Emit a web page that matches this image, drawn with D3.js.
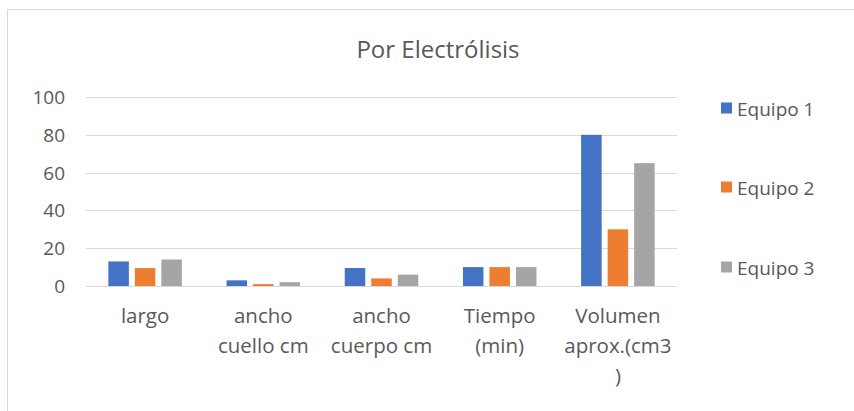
<!DOCTYPE html>
<html lang="es">
  <head>
    <meta charset="UTF-8" />
    <title>Por Electrólisis</title>
    <style>
      body {
        margin: 0;
        background: #fff;
        font-family: "Open Sans", "Noto Sans", sans-serif;
        color: #595959;
      }
      text {
        fill: #595959;
      }
      .grid line {
        stroke: #d9d9d9;
        stroke-width: 1;
      }
    </style>
  </head>
  <body>
    <svg width="854" height="411"></svg>
  </body>
  <script src="https://cdn.jsdelivr.net/npm/d3@7"></script>
  <script>
    const categories = ["largo", "ancho cuello cm", "ancho cuerpo cm", "Tiempo (min)", "Volumen aprox.(cm3 )"];
    const tickLines = [["largo"], ["ancho", "cuello cm"], ["ancho", "cuerpo cm"], ["Tiempo", "(min)"], ["Volumen", "aprox.(cm3", ")"]];
    const seriesNames = ["Equipo 1", "Equipo 2", "Equipo 3"];
    const equipo1 = [13, 3, 9.5, 10, 80];
    const equipo2 = [9.5, 1, 4, 10, 30];
    const equipo3 = [14, 2, 6, 10, 65];
    const yTicks = [0, 20, 40, 60, 80, 100];
    const colors = ["#4472C4", "#ED7D31", "#A5A5A5"];

    const values = [equipo1, equipo2, equipo3];
    const svg = d3.select("svg");

    // chart border
    svg.append("rect")
      .attr("x", 7.5).attr("y", 9.5)
      .attr("width", 860).attr("height", 420)
      .attr("fill", "none").attr("stroke", "#d9d9d9");

    svg.append("text")
      .attr("x", 438).attr("y", 58)
      .attr("text-anchor", "middle")
      .attr("font-size", 24)
      .text("Por Electrólisis");

    const x0 = d3.scaleBand().domain(categories).range([86, 677]).padding(0);
    const x1 = d3.scaleBand().domain(seriesNames)
      .range([0, x0.bandwidth()])
      .paddingInner(0.226).paddingOuter(0.843);
    const y = d3.scaleLinear().domain([0, 100]).range([286, 97]);

    // gridlines + y labels
    svg.append("g").attr("class", "grid")
      .selectAll("line").data(yTicks).join("line")
      .attr("x1", 86).attr("x2", 677)
      .attr("y1", (d) => Math.round(y(d)) + 0.5)
      .attr("y2", (d) => Math.round(y(d)) + 0.5);

    svg.append("g")
      .selectAll("text").data(yTicks).join("text")
      .attr("x", 65).attr("y", (d) => y(d) + 7)
      .attr("text-anchor", "end")
      .attr("font-size", 19)
      .text((d) => d);

    // bars
    const groups = svg.append("g")
      .selectAll("g").data(categories).join("g")
      .attr("transform", (d) => `translate(${x0(d)},0)`);

    groups.selectAll("rect")
      .data((c, i) => seriesNames.map((s, j) => ({ s, j, v: values[j][i] })))
      .join("rect")
      .attr("x", (d) => x1(d.s))
      .attr("width", x1.bandwidth())
      .attr("y", (d) => y(d.v))
      .attr("height", (d) => y(0) - y(d.v))
      .attr("fill", (d) => colors[d.j]);

    // x labels
    const xl = svg.append("g")
      .selectAll("text").data(categories).join("text")
      .attr("text-anchor", "middle")
      .attr("font-size", 20.5)
      .attr("x", (d) => x0(d) + x0.bandwidth() / 2)
      .attr("y", 323);
    xl.selectAll("tspan")
      .data((d, i) => tickLines[i])
      .join("tspan")
      .attr("x", function () { return this.parentNode.getAttribute("x"); })
      .attr("dy", (d, i) => (i === 0 ? 0 : 30))
      .text((d) => d);

    // legend
    const leg = svg.append("g")
      .selectAll("g").data(seriesNames).join("g")
      .attr("transform", (d, i) => `translate(721,${[108, 187, 267][i]})`);
    leg.append("rect")
      .attr("x", 0).attr("y", -5.5)
      .attr("width", 11).attr("height", 11)
      .attr("fill", (d, i) => colors[i]);
    leg.append("text")
      .attr("x", 16).attr("y", 7.5)
      .attr("font-size", 19)
      .text((d) => d);
  </script>
</html>
